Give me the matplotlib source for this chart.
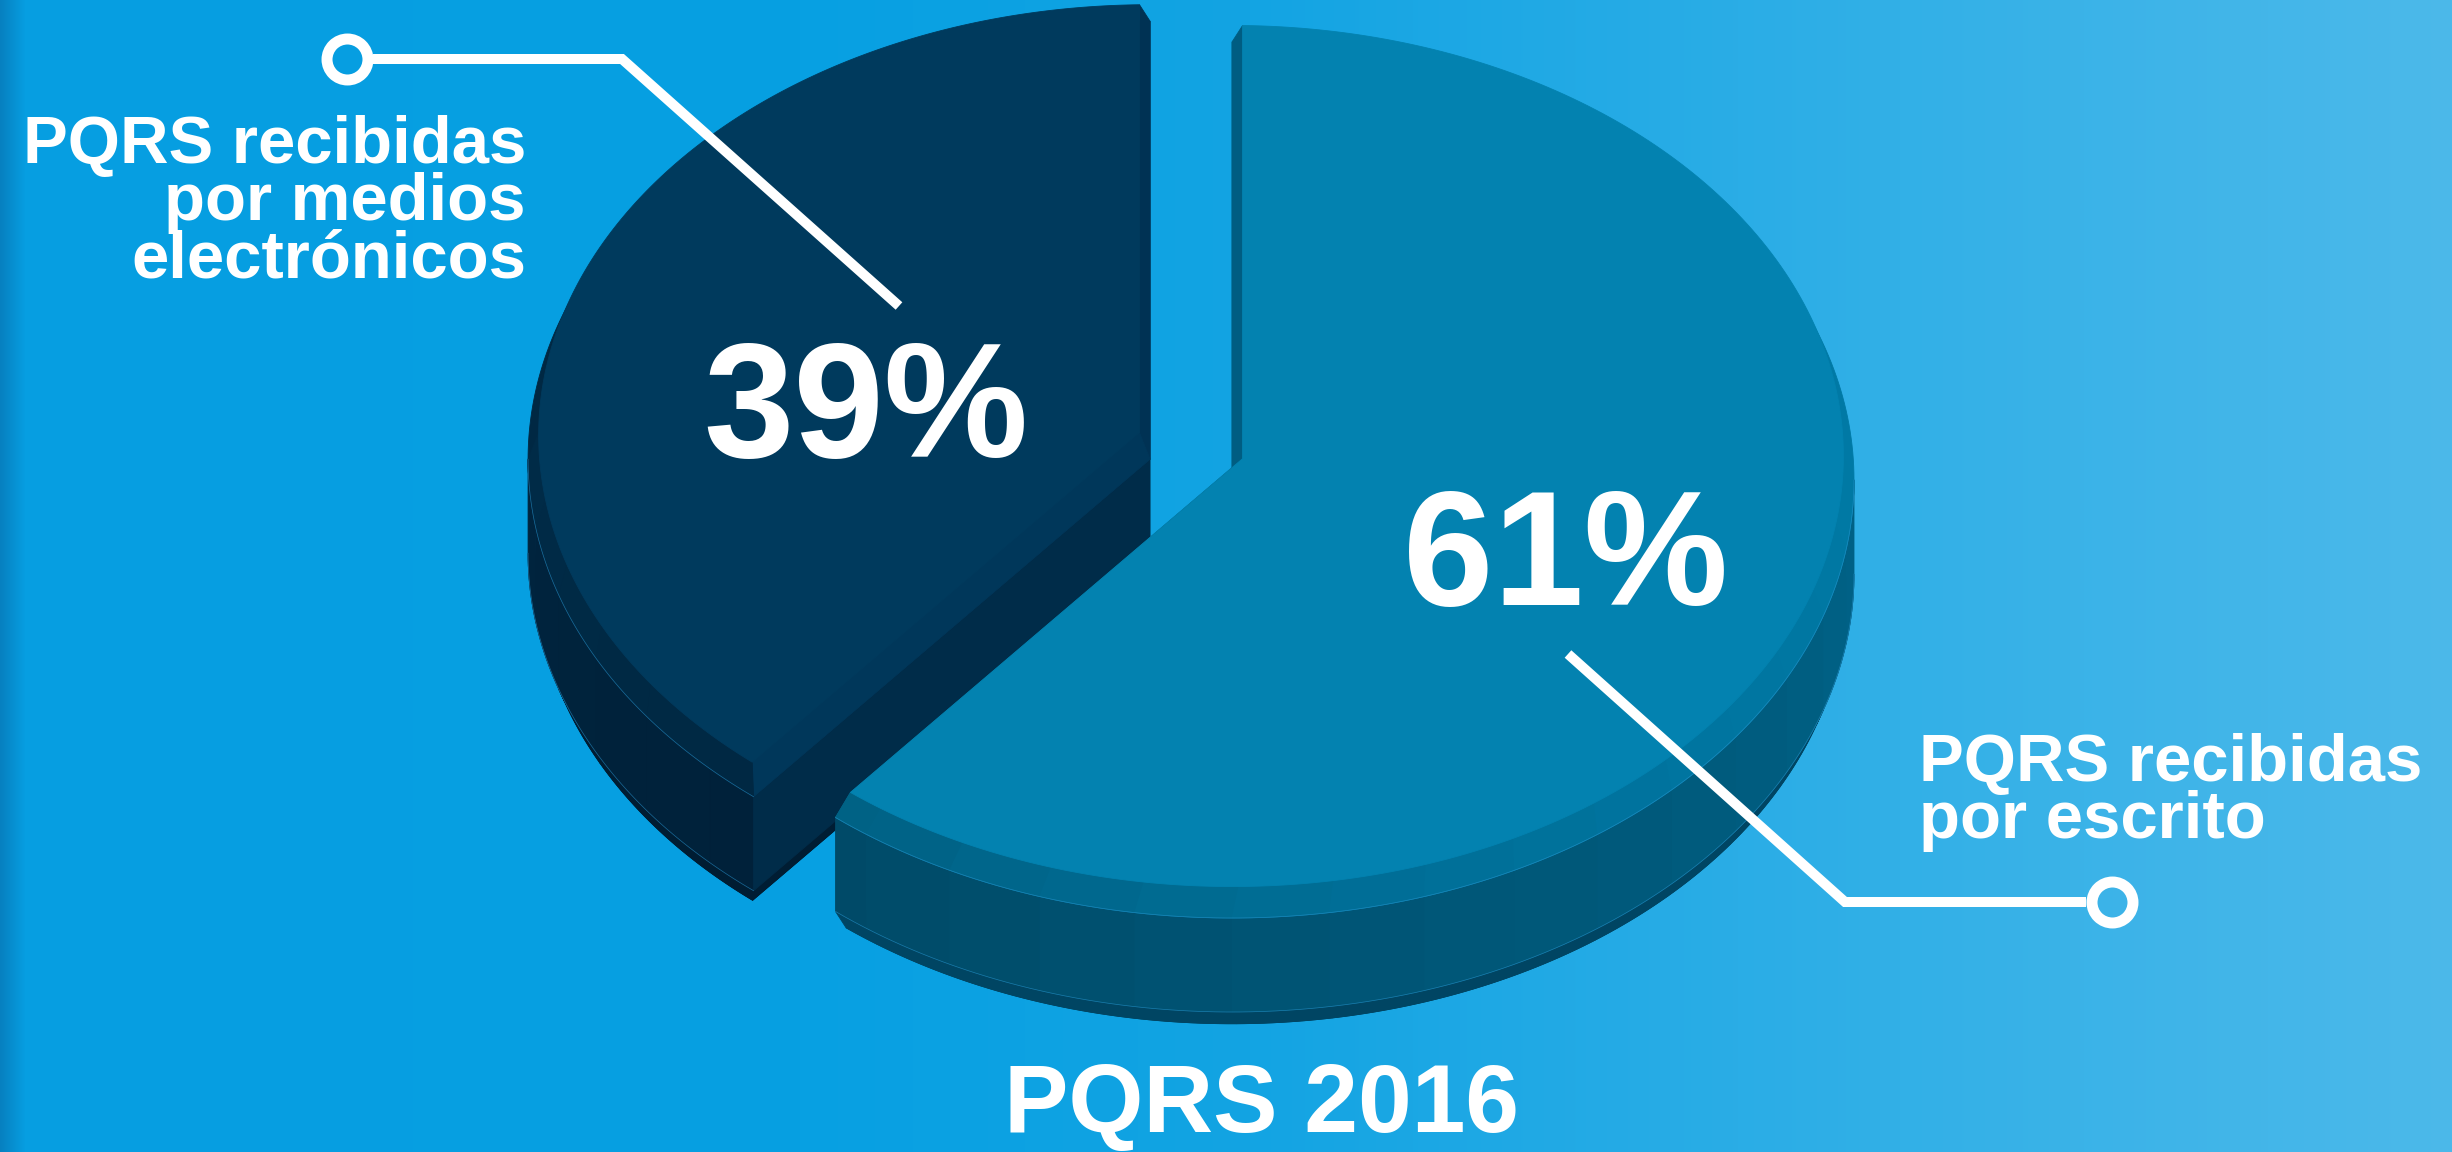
import numpy as np
import matplotlib
matplotlib.use("Agg")
import matplotlib.pyplot as plt
from matplotlib.patches import Polygon
from matplotlib.colors import to_rgb


# Datos del gráfico
categorias = ["PQRS recibidas por medios electrónicos", "PQRS recibidas por escrito"]
porcentajes = [39, 61]
lineas_etiqueta = [
    ["PQRS recibidas", "por medios", "electrónicos"],
    ["PQRS recibidas", "por escrito"],
]
titulo = "PQRS 2016"

# Colores de cada sector (oscuro, claro)
color_superior = ["#003a5d", "#0382b0"]
color_bisel_borde = [(["#002b47", "#002843"], [180, 230]),
                     (["#005a7c", "#006184", "#006c93", "#0075a0", "#0079a5"], [180, 230, 270, 320, 360])]
color_lado = [(["#00243e", "#00213a"], [180, 230]),
              (["#004a67", "#005373", "#005b7d", "#006287"], [230, 270, 320, 360])]
color_bisel_corte = [["#003254", "#00375a"], ["#006184", "#005d82"]]
color_cara_corte = ["#002c49", "#004a67"]
color_base = ["#001d33", "#004563"]

# Geometría (en píxeles)
W, H = 2452, 1152
CX, CY = 1232, 480
A, B = 622, 438
ESPESOR = 94
BISEL_SUP = 24
BISEL_INF = 17
DELTA = 0.017
DELTA_INF = 0.012
SEPARACION = [0.14, 0.0]
PASO_FACETA = 9

fuente = "Liberation Sans"

fig = plt.figure(figsize=(W / 100, H / 100), dpi=100)
ax = fig.add_axes([0, 0, 1, 1])

# Fondo degradado
stops_x = [0, 25, 800, 1250, 1900, W]
stops_c = ["#0680c0", "#069ee1", "#07a0e2", "#13a4e3", "#32b0e7", "#4cb9ea"]
rgb = np.array([to_rgb(c) for c in stops_c])
xs = np.arange(W)
grad = np.stack([np.interp(xs, stops_x, rgb[:, k]) for k in range(3)], axis=-1)[None, :, :]
ax.imshow(grad, extent=[0, W, H, 0], aspect="auto", zorder=0)
ax.set_xlim(0, W)
ax.set_ylim(H, 0)
ax.axis("off")


def mezcla(colores, angulos, ang):
    c = np.array([to_rgb(x) for x in colores])
    return tuple(float(np.interp(ang, angulos, c[:, k])) for k in range(3))


def elipse(cx, cy, r, angs):
    th = np.radians(angs)
    return np.column_stack([cx + r * A * np.cos(th), cy - r * B * np.sin(th)])


def punto_arco(cx, cy, t1, t2, d, angs):
    R = 1 - d
    s = np.degrees(np.arcsin(d / R))
    phi = t1 + s + (np.asarray(angs, dtype=float) - t1) * (t2 - t1 - 2 * s) / (t2 - t1)
    return elipse(cx, cy, R, phi)


def vertice(cx, cy, t1, t2, d):
    mitad = np.radians((t2 - t1) / 2)
    medio = np.radians(t1) + mitad
    k = d / np.sin(mitad)
    return np.array([cx + k * A * np.cos(medio), cy - k * B * np.sin(medio)])


def sector(cx, cy, t1, t2, d, n=240):
    return np.vstack([vertice(cx, cy, t1, t2, d),
                      punto_arco(cx, cy, t1, t2, d, np.linspace(t1, t2, n))])


def pol(puntos, color, z):
    ax.add_patch(Polygon(puntos, closed=True, facecolor=color,
                         edgecolor=color, linewidth=0.6, zorder=z))


def facetas(lo, hi):
    if hi <= lo:
        return []
    cortes = np.arange(np.ceil(lo / PASO_FACETA) * PASO_FACETA, hi, PASO_FACETA)
    b = np.unique(np.concatenate([[lo], cortes, [hi]]))
    return list(zip(b[:-1], b[1:]))


bordes = 90 + np.concatenate([[0], np.cumsum(porcentajes)]) / 100 * 360

for i in range(len(porcentajes)):
    t1, t2 = bordes[i], bordes[i + 1]
    medio = np.radians((t1 + t2) / 2)
    cx = CX + SEPARACION[i] * A * np.cos(medio)
    cy = CY - SEPARACION[i] * B * np.sin(medio)
    z = 2 + i * 10
    lo, hi = max(t1, 180), min(t2, 360)
    corte2_visible = np.cos(np.radians(t2)) < -1e-6

    yb = cy + ESPESOR
    ybi = yb + BISEL_INF
    yt = cy - BISEL_SUP

    # Bisel inferior
    pol(sector(cx, ybi, t1, t2, DELTA_INF), color_base[i], z)
    for a1, a2 in facetas(lo, hi):
        angs = np.linspace(a1, a2, 12)
        ext = punto_arco(cx, yb, t1, t2, 0, angs)
        inn = punto_arco(cx, ybi, t1, t2, DELTA_INF, angs)
        pol(np.vstack([ext, inn[::-1]]), color_base[i], z)
    if corte2_visible:
        pol(np.array([vertice(cx, yb, t1, t2, 0), elipse(cx, yb, 1, [t2])[0],
                      punto_arco(cx, ybi, t1, t2, DELTA_INF, [t2])[0],
                      vertice(cx, ybi, t1, t2, DELTA_INF)]), color_base[i], z)

    # Pared lateral con facetas
    cols, angs_c = color_lado[i]
    for a1, a2 in facetas(lo, hi):
        angs = np.linspace(a1, a2, 12)
        sup = punto_arco(cx, cy, t1, t2, 0, angs)
        inf = punto_arco(cx, yb, t1, t2, 0, angs)
        pol(np.vstack([sup, inf[::-1]]), mezcla(cols, angs_c, (a1 + a2) / 2), z + 1)

    # Cara del corte visible
    if corte2_visible:
        v = vertice(cx, cy, t1, t2, 0)
        p = elipse(cx, cy, 1, [t2])[0]
        pol(np.array([v, p, p + [0, ESPESOR], v + [0, ESPESOR]]), color_cara_corte[i], z + 2)

    # Bisel superior
    pol(sector(cx, cy, t1, t2, 0), color_bisel_borde[i][0][-1], z + 3)
    for k, t in enumerate([t1, t2]):
        pol(np.array([vertice(cx, cy, t1, t2, 0), elipse(cx, cy, 1, [t])[0],
                      punto_arco(cx, yt, t1, t2, DELTA, [t])[0],
                      vertice(cx, yt, t1, t2, DELTA)]), color_bisel_corte[i][k], z + 4)
    cols, angs_c = color_bisel_borde[i]
    for a1, a2 in facetas(lo, hi):
        angs = np.linspace(a1, a2, 12)
        ext = punto_arco(cx, cy, t1, t2, 0, angs)
        inn = punto_arco(cx, yt, t1, t2, DELTA, angs)
        pol(np.vstack([ext, inn[::-1]]), mezcla(cols, angs_c, (a1 + a2) / 2), z + 5)

    # Líneas finas de brillo
    angs = np.linspace(lo, hi, 120)
    for yy in (cy, yb):
        arco = punto_arco(cx, yy, t1, t2, 0, angs)
        ax.plot(arco[:, 0], arco[:, 1], color="#2a9ad6", lw=0.5, alpha=0.6, zorder=z + 6)

    # Cara superior
    pol(sector(cx, yt, t1, t2, DELTA), color_superior[i], z + 7)


# Porcentajes
pos_pct = [(866, 457), (1566, 605)]
for v, (x, y) in zip(porcentajes, pos_pct):
    ax.text(x, y, f"{v}%", ha="center", va="baseline", color="white",
            fontsize=117, fontweight="bold", family=fuente, zorder=40)

# Etiquetas
for k, linea in enumerate(lineas_etiqueta[0]):
    ax.text(526, 163 + 57 * k, linea, ha="right", va="baseline", color="white",
            fontsize=48.3, fontweight="bold", family=fuente, zorder=40)
for k, linea in enumerate(lineas_etiqueta[1]):
    ax.text(1919, 781 + 57 * k, linea, ha="left", va="baseline", color="white",
            fontsize=48.3, fontweight="bold", family=fuente, zorder=40)

# Líneas guía
lw_guia = 7.2
r_anillo = 26
ax.plot([347 + r_anillo, 622, 899], [59, 59, 306], color="white", lw=lw_guia,
        solid_capstyle="butt", solid_joinstyle="miter", zorder=35)
ax.plot([1568, 1845, 2112 - r_anillo], [654, 902, 902], color="white", lw=lw_guia,
        solid_capstyle="butt", solid_joinstyle="miter", zorder=35)
for x, y in [(347, 59), (2112, 902)]:
    ax.plot(x, y, marker="o", markersize=29.5, markerfacecolor="none",
            markeredgecolor="white", markeredgewidth=7.9, zorder=36)

# Título
ax.text(1262, 1132, titulo, ha="center", va="baseline", color="white",
        fontsize=69.5, fontweight="bold", family=fuente, zorder=40)

fig.savefig("out.png", dpi=100)
